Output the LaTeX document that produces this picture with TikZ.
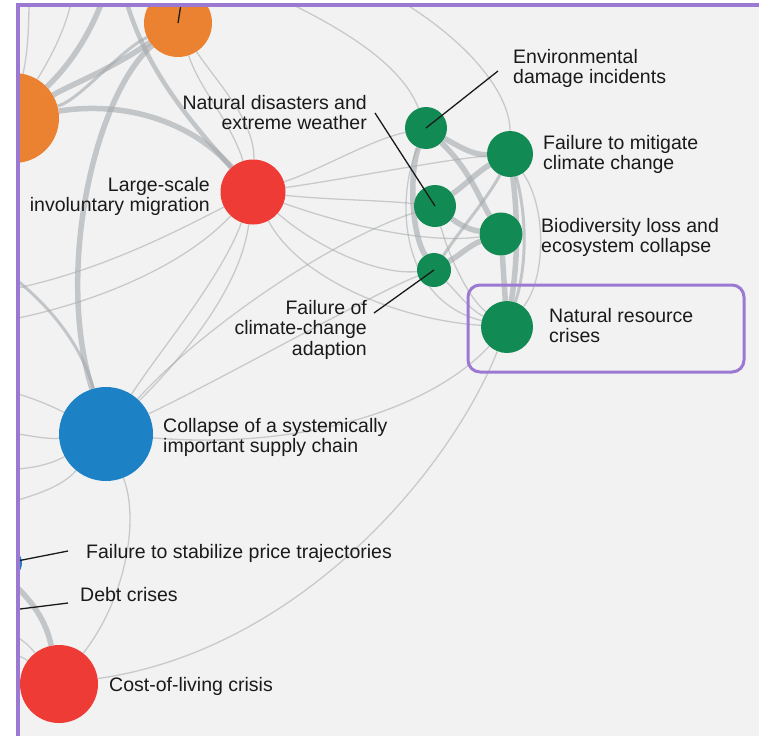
\documentclass[tikz,border=0pt]{standalone}
\usepackage{fontspec}
\setmainfont{Liberation Sans}
\usetikzlibrary{positioning}

\definecolor{bgcol}{HTML}{F2F2F2}
\definecolor{framecol}{HTML}{9B78D2}
\definecolor{orangecol}{HTML}{EB8231}
\definecolor{redcol}{HTML}{EE3B36}
\definecolor{greencol}{HTML}{128A53}
\definecolor{bluecol}{HTML}{1C82C5}
\definecolor{edgecol}{HTML}{A4A9AC}
\definecolor{txtcol}{HTML}{1A1A1A}

\pgfdeclarelayer{bg}
\pgfdeclarelayer{edges}
\pgfsetlayers{bg,edges,main}

\tikzset{
  risk/.style={circle, inner sep=0pt, draw=none},
  thk/.style={draw=edgecol, line width=5.5pt, draw opacity=0.6},
  med/.style={draw=edgecol, line width=3pt, draw opacity=0.6},
  thn/.style={draw=edgecol, line width=1.3pt, draw opacity=0.55},
  lbl/.style={inner sep=0pt, text=txtcol, font=\fontsize{19.5}{20.5}\selectfont},
  leader/.style={draw=txtcol, line width=1.3pt},
  focusbox/.style={draw=framecol, line width=3pt, rounded corners=12pt, inner sep=0pt},
}

\begin{document}
\begin{tikzpicture}[x=1pt,y=-1pt]
\useasboundingbox (0,0) rectangle (759,736);
\begin{pgfonlayer}{bg}
  \fill[white] (0,0) rectangle (759,736);
  \fill[bgcol] (18,5) rectangle (759,736);
\end{pgfonlayer}

\begin{scope}
\clip (20,7) rectangle (759,736);
% risks
\node[risk, fill=orangecol, minimum size=68pt] (geo) at (178,23) {};
\node[risk, fill=orangecol, minimum size=90pt] (infl) at (14,118) {};
\node[risk, fill=redcol, minimum size=65pt] (migr) at (253,192) {};
\node[risk, fill=greencol, minimum size=42pt] (envdmg) at (426,128) {};
\node[risk, fill=greencol, minimum size=46pt] (mitig) at (510,154) {};
\node[risk, fill=greencol, minimum size=42pt] (natdis) at (435,206) {};
\node[risk, fill=greencol, minimum size=43pt] (biodiv) at (501,234) {};
\node[risk, fill=greencol, minimum size=34pt] (adapt) at (434,270) {};
\node[risk, fill=greencol, minimum size=52pt] (natres) at (507,327) {};
\node[risk, fill=bluecol, minimum size=94pt] (supply) at (106,434) {};
\node[risk, fill=bluecol, minimum size=30pt] (price) at (7,563) {};
\node[risk, fill=bluecol, minimum size=30pt] (debt) at (-12,613) {};
\node[risk, fill=redcol, minimum size=78pt] (cost) at (59,684) {};

% off-chart ends
\coordinate (tA) at (108,-15);
\coordinate (tB) at (74,-15);
\coordinate (tC) at (122,-15);
\coordinate (tD) at (30,-15);
\coordinate (tE) at (250,-15);
\coordinate (tF) at (372,-15);
\coordinate (lA) at (-20,255);
\coordinate (lB) at (-20,295);
\coordinate (lC) at (-20,325);
\coordinate (lD) at (-20,385);
\coordinate (lE) at (-20,430);
\coordinate (lF) at (-20,470);
\coordinate (lJ) at (-20,510);
\coordinate (lG) at (-15,560);
\coordinate (lH) at (-20,625);
\coordinate (lK) at (-20,650);

\begin{pgfonlayer}{edges}
\clip (20,7) rectangle (759,736);
% left side
\draw[thk] (infl) .. controls (75,60) and (95,25) .. (tA);
\draw[thn] (infl) .. controls (55,50) and (70,20) .. (tB);
\draw[thn] (infl) .. controls (30,40) and (28,15) .. (tD);
\draw[thk] (geo) .. controls (110,70) and (70,85) .. (infl);
\draw[med] (geo) .. controls (120,50) and (80,100) .. (infl);
\draw[thk] (infl) .. controls (130,100) and (195,125) .. (migr);
\draw[thk, line width=4.5pt] (tC) .. controls (140,60) and (180,110) .. (migr);
\draw[thk] (geo) .. controls (95,95) and (55,270) .. (supply);
\draw[thn] (geo) .. controls (200,90) and (230,120) .. (migr);
\draw[thn] (geo) .. controls (215,80) and (255,120) .. (migr);
% top right
\draw[thn] (tE) .. controls (330,20) and (400,60) .. (envdmg);
\draw[thn] (tF) .. controls (460,30) and (510,90) .. (mitig);
% migration
\draw[thn] (migr) .. controls (320,170) and (370,140) .. (envdmg);
\draw[thn] (migr) .. controls (340,180) and (440,160) .. (mitig);
\draw[thn] (migr) .. controls (330,200) and (380,200) .. (natdis);
\draw[thn] (migr) .. controls (330,220) and (420,245) .. (biodiv);
\draw[thn] (migr) .. controls (320,250) and (380,275) .. (adapt);
\draw[thn] (migr) .. controls (300,280) and (400,320) .. (natres);
\draw[thn] (migr) .. controls (160,240) and (80,280) .. (lB);
\draw[thn] (migr) .. controls (180,270) and (80,310) .. (lC);
\draw[thn] (migr) .. controls (220,280) and (160,350) .. (supply);
\draw[thn] (migr) .. controls (240,290) and (180,360) .. (supply);
\draw[med] (lA) .. controls (40,290) and (80,340) .. (supply);
% supply chain
\draw[thn] (supply) .. controls (200,330) and (330,240) .. (natdis);
\draw[thn] (supply) .. controls (220,380) and (380,290) .. (adapt);
\draw[thn] (supply) .. controls (300,450) and (430,410) .. (natres);
\draw[thn] (supply) .. controls (140,520) and (125,600) .. (cost);
\draw[thn] (supply) .. controls (40,400) and (10,390) .. (lD);
\draw[thn] (supply) .. controls (40,440) and (10,430) .. (lE);
\draw[thn] (supply) .. controls (40,470) and (10,470) .. (lF);
\draw[thn] (supply) .. controls (60,490) and (20,500) .. (lJ);
% cost of living
\draw[thk] (lG) .. controls (25,590) and (45,615) .. (cost);
\draw[thn] (lH) .. controls (10,630) and (25,640) .. (cost);
\draw[thn] (lK) .. controls (5,650) and (20,655) .. (cost);
\draw[thn] (natres) .. controls (450,470) and (300,650) .. (cost);
% green cluster
\draw[thk] (envdmg) .. controls (465,150) and (475,155) .. (mitig);
\draw[thk] (envdmg) .. controls (470,170) and (480,200) .. (biodiv);
\draw[thk] (envdmg) .. controls (410,170) and (410,230) .. (adapt);
\draw[thk] (natdis) .. controls (465,185) and (480,170) .. (mitig);
\draw[thk] (natdis) .. controls (460,225) and (470,230) .. (biodiv);
\draw[thk] (adapt) .. controls (460,255) and (470,245) .. (biodiv);
\draw[med] (adapt) .. controls (460,230) and (490,195) .. (mitig);
\draw[thk] (mitig) .. controls (518,220) and (518,260) .. (natres);
\draw[med] (mitig) .. controls (528,220) and (526,270) .. (natres);
\draw[thn] (mitig) .. controls (548,210) and (545,280) .. (natres);
\draw[thk] (biodiv) -- (natres);
\draw[thn] (envdmg) .. controls (395,200) and (400,300) .. (natres);
\draw[thn] (natdis) .. controls (450,260) and (470,300) .. (natres);
\draw[thn] (adapt) .. controls (455,290) and (470,310) .. (natres);
\end{pgfonlayer}

% leader lines
\coordinate (geoEnd) at (181,4);
\coordinate (envEnd) at (498,71);
\coordinate (disEnd) at (375,113);
\coordinate (adaEnd) at (374,313);
\coordinate (priceEnd) at (68,551);
\coordinate (debtEnd) at (68,603);
\draw[leader] (geo.center) -- (geoEnd);
\draw[leader] (envdmg.center) -- (envEnd);
\draw[leader] (natdis.center) -- (disEnd);
\draw[leader] (adapt.center) -- (adaEnd);
\draw[leader] (price.center) -- (priceEnd);
\draw[leader] (debt.center) -- (debtEnd);
\end{scope}

% labels
\node[lbl, align=left, anchor=north west] (envlbl) at (513,49) {Environmental\\damage incidents};
\node[lbl, align=left, anchor=north west] (mitlbl) at (543,135) {Failure to mitigate\\climate change};
\node[lbl, align=right, anchor=north east] (dislbl) at (367,95) {Natural disasters and\\extreme weather};
\node[lbl, align=right, anchor=north east] (miglbl) at (210,177) {Large-scale\\involuntary migration};
\node[lbl, align=left, anchor=north west] (biolbl) at (541,218) {Biodiversity loss and\\ecosystem collapse};
\node[lbl, align=right, anchor=north east] (adalbl) at (367,300) {Failure of\\climate-change\\adaption};
\node[lbl, align=left, anchor=north west] (reslbl) at (549,308) {Natural resource\\crises};
\node[lbl, align=left, anchor=north west] (suplbl) at (163,418) {Collapse of a systemically\\important supply chain};
\node[lbl, anchor=north west] (prilbl) at (86,544) {Failure to stabilize price trajectories};
\node[lbl, anchor=north west] (deblbl) at (80,587) {Debt crises};
\node[lbl, anchor=north west] (coslbl) at (109,677) {Cost-of-living crisis};

% highlight and frame
\node[focusbox, minimum width=276pt, minimum height=87pt] (focus) at (606,328.5) {};
\draw[framecol, line width=4pt] (18,736) -- (18,5) -- (759,5);
\end{tikzpicture}
\end{document}
